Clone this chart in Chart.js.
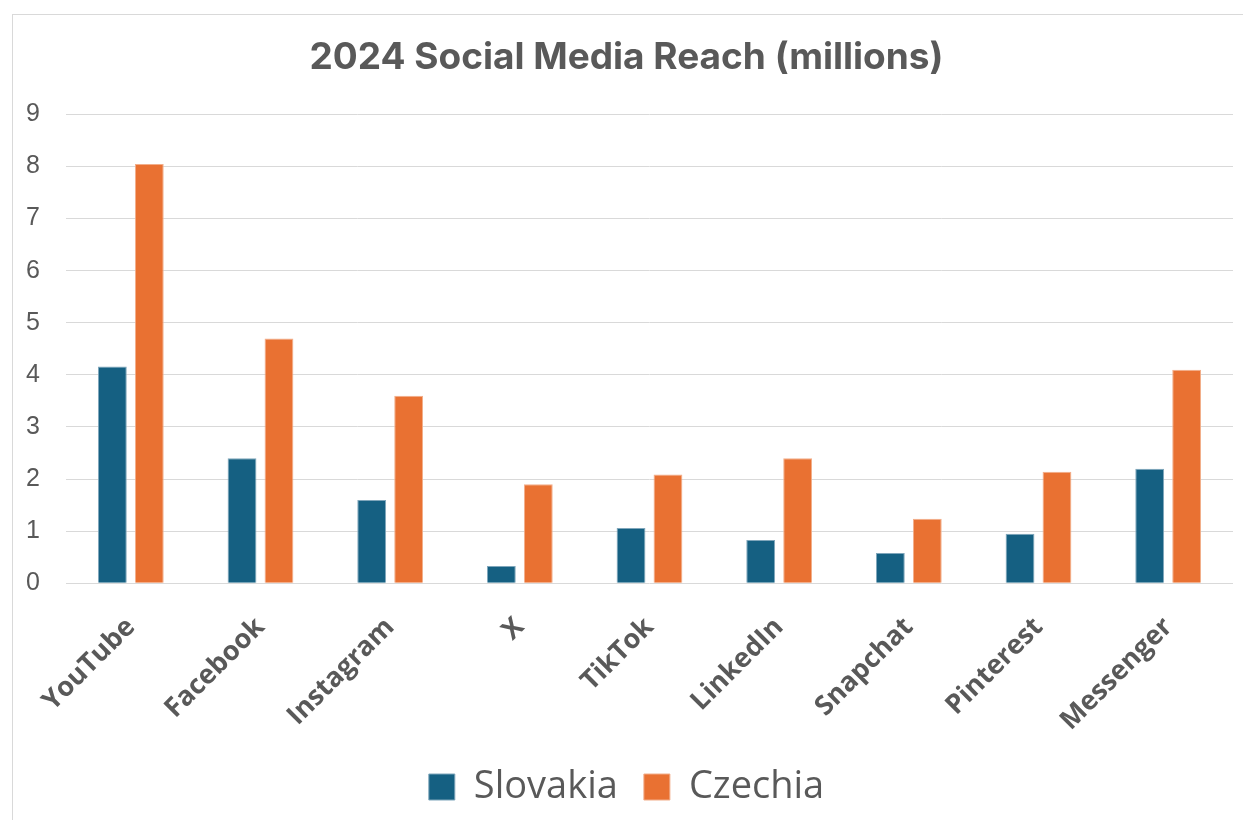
<!DOCTYPE html>
<html>
<head>
<meta charset="utf-8">
<script src="https://cdn.jsdelivr.net/npm/chart.js@4.4.1/dist/chart.umd.min.js"></script>
<style>
  html, body { margin: 0; padding: 0; background: #fff; }
  #frame { position: absolute; left: 12px; top: 14px; width: 1240px; height: 820px; border: 1px solid #d9d9d9; box-sizing: border-box; }
  #wrap { position: absolute; left: 0; top: 0; width: 1243px; height: 820px; }
</style>
</head>
<body>
<div id="frame"></div>
<div id="wrap"><canvas id="chart"></canvas></div>
<script>
const platforms = ["YouTube", "Facebook", "Instagram", "X", "TikTok", "LinkedIn", "Snapchat", "Pinterest", "Messenger"];
const slovakia = [4.16, 2.4, 1.6, 0.33, 1.06, 0.83, 0.58, 0.95, 2.2];
const czechia = [8.05, 4.7, 3.6, 1.9, 2.09, 2.4, 1.24, 2.14, 4.1];
const yTicks = [0, 1, 2, 3, 4, 5, 6, 7, 8, 9];

const textGray = "#595959";

new Chart(document.getElementById("chart"), {
  type: "bar",
  data: {
    labels: platforms,
    datasets: [
      {
        label: "Slovakia",
        data: slovakia,
        backgroundColor: "#156082",
        borderColor: "#7fa6bb",
        borderWidth: 1,
      },
      {
        label: "Czechia",
        data: czechia,
        backgroundColor: "#E97132",
        borderColor: "#f2ae8a",
        borderWidth: 1,
      },
    ],
  },
  options: {
    responsive: true,
    maintainAspectRatio: false,
    animation: false,
    datasets: { bar: { categoryPercentage: 0.57, barPercentage: 0.78 } },
    layout: { padding: { left: 20, right: 10, top: 36, bottom: 4 } },
    plugins: {
      title: {
        display: true,
        text: "2024 Social Media Reach (millions)",
        color: textGray,
        font: { family: "Inter", size: 37, weight: "bold" },
        padding: { top: 0, bottom: 34 },
      },
      legend: {
        position: "bottom",
        labels: {
          color: textGray,
          font: { family: "Open Sans", size: 38 },
          boxWidth: 26,
          boxHeight: 26,
          padding: 26,
        },
      },
      tooltip: { enabled: false },
    },
    scales: {
      x: {
        grid: { display: false },
        border: { display: false },
        afterFit: (scale) => {
          scale.paddingLeft = 0;
          scale.paddingRight = 0;
          scale.height -= 15;
        },
        ticks: {
          color: textGray,
          font: { family: "Open Sans", size: 27, weight: "bold" },
          minRotation: 45,
          maxRotation: 45,
          padding: 20,
        },
      },
      y: {
        min: 0,
        max: 9,
        afterBuildTicks: (axis) => { axis.ticks = yTicks.map((v) => ({ value: v })); },
        afterFit: (scale) => { scale.width = 46; },
        grid: { color: "#d9d9d9", lineWidth: 1, drawTicks: false },
        border: { display: false },
        ticks: {
          color: textGray,
          font: { family: "Liberation Sans", size: 25 },
          padding: 26,
        },
      },
    },
  },
});
</script>
</body>
</html>
